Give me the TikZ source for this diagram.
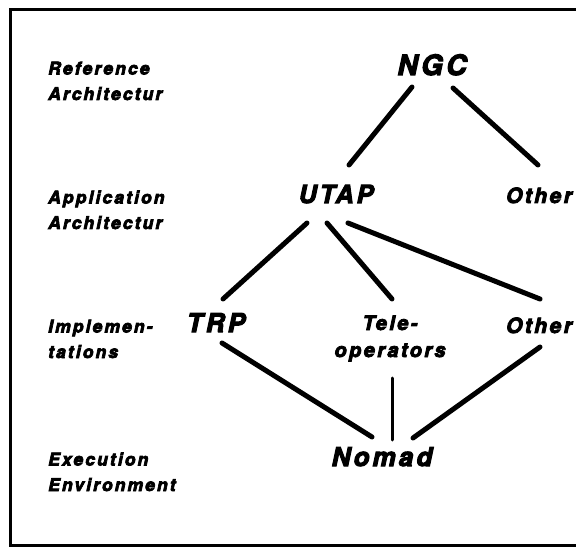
\documentclass[tikz,border=0pt]{standalone}
\usepackage{fontspec}
\setmainfont{TeX Gyre Heros}[LetterSpace=12, BoldItalicFeatures={FakeBold=4}]
\usepackage{tikz}

\tikzset{
    level/.style={font=\fontsize{17.5}{25.5}\selectfont\bfseries\itshape,
        anchor=base west, align=left, inner sep=0pt},
    unit/.style={font=\fontsize{#1}{27}\selectfont\bfseries\itshape,
        anchor=base, align=center, inner sep=0pt},
    unit/.default=26,
    link/.style={line width=5pt, line cap=round},
}

\begin{document}
\begin{tikzpicture}[x=1pt, y=-1pt]
    \useasboundingbox (0,0) rectangle (576,548);
    \draw[line width=3pt] (576,10) -- (10,10) -- (10,545) -- (576,545);

    % levels on the left (base = last line)
    \node[level] (ref)  at (48,100) {Reference\\Architectur};
    \node[level] (app)  at (48,229) {Application\\Architectur};
    \node[level] (impl) at (48,358) {Implemen-\\tations};
    \node[level] (exec) at (48,491) {Execution\\Environment};

    % the tree
    \node[unit=28] (ngc)    at (432,75)  {NGC};
    \node[unit=25] (utap)   at (336,203) {UTAP};
    \node[unit=21] (other1) at (539,203) {Other};
    \node[unit]    (trp)    at (216,332) {TRP};
    \node[unit=20] (tele)   at (390,357) {Tele-\\operators};
    \node[unit=21] (other2) at (539,333) {Other};
    \node[unit]    (nomad)  at (382,466) {Nomad};

    \draw[link] ([shift={(-20,12)}]ngc.base) -- ([shift={(13,-38)}]utap.base);
    \draw[link] ([shift={(21,13)}]ngc.base) -- ([shift={(-1,-38)}]other1.base);
    \draw[link] ([shift={(-29,20)}]utap.base) -- ([shift={(7,-33)}]trp.base);
    \draw[link] ([shift={(-9,20)}]utap.base) -- ([shift={(2,-58)}]tele.base);
    \draw[link] ([shift={(12,20)}]utap.base) -- ([shift={(1,-34)}]other2.base);
    \draw[link] ([shift={(6,11)}]trp.base) -- ([shift={(-10,-29)}]nomad.base);
    \draw[link, line width=3pt] ([shift={(2,21)}]tele.base) -- ([shift={(10,-26)}]nomad.base);
    \draw[link] ([shift={(1,14)}]other2.base) -- ([shift={(31,-28)}]nomad.base);
\end{tikzpicture}
\end{document}
